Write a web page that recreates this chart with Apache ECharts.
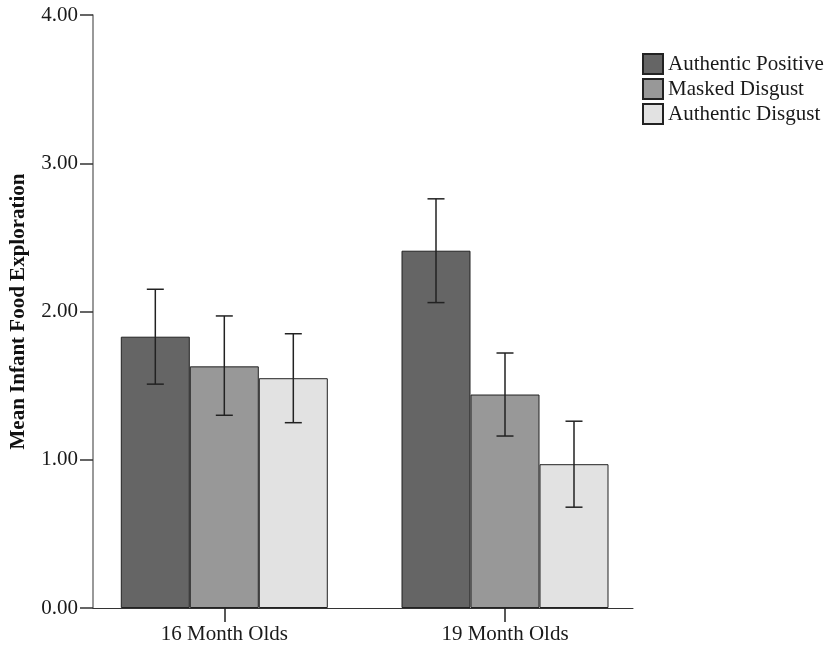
<!DOCTYPE html>
<html>
<head>
<meta charset="utf-8">
<script src="https://cdn.jsdelivr.net/npm/echarts@6/dist/echarts.min.js"></script>
<style>html,body{margin:0;padding:0;background:#fff;}#c{width:826px;height:654px;}</style>
</head>
<body>
<div id="c"></div>
<script>
var categories = ['16 Month Olds', '19 Month Olds'];
var seriesNames = ['Authentic Positive', 'Masked Disgust', 'Authentic Disgust'];
var yTicks = [0, 1, 2, 3, 4];

var meanAuthPos = [1.83, 2.41];
var meanMasked = [1.63, 1.44];
var meanAuthDis = [1.55, 0.97];

var lowAuthPos = [1.51, 2.06];
var highAuthPos = [2.15, 2.76];
var lowMasked = [1.30, 1.16];
var highMasked = [1.97, 1.72];
var lowAuthDis = [1.25, 0.68];
var highAuthDis = [1.85, 1.26];

var means = [meanAuthPos, meanMasked, meanAuthDis];
var lows = [lowAuthPos, lowMasked, lowAuthDis];
var highs = [highAuthPos, highMasked, highAuthDis];

var colors = ['#656565', '#989898', '#e2e2e2'];
var BAR_W = 69;
var FONT = "'Liberation Serif', 'Times New Roman', serif";

var series = [];
seriesNames.forEach(function (name, si) {
  series.push({
    name: name,
    type: 'bar',
    barWidth: BAR_W,
    barGap: '0%',
    itemStyle: { color: colors[si], borderColor: '#222', borderWidth: 1 },
    data: categories.map(function (c, i) { return [i, means[si][i]]; }),
    z: 2
  });
});
seriesNames.forEach(function (name, si) {
  var off = (si - 1) * BAR_W;
  series.push({
    type: 'custom',
    silent: true,
    z: 5,
    renderItem: function (params, api) {
      var x = api.value(0);
      var pLo = api.coord([x, api.value(1)]);
      var pHi = api.coord([x, api.value(2)]);
      var cx = pLo[0] + off;
      var cap = 8.5;
      var st = { stroke: '#222', lineWidth: 1.5 };
      return {
        type: 'group',
        children: [
          { type: 'line', shape: { x1: cx, y1: pLo[1], x2: cx, y2: pHi[1] }, style: st },
          { type: 'line', shape: { x1: cx - cap, y1: pLo[1], x2: cx + cap, y2: pLo[1] }, style: st },
          { type: 'line', shape: { x1: cx - cap, y1: pHi[1], x2: cx + cap, y2: pHi[1] }, style: st }
        ]
      };
    },
    data: categories.map(function (c, i) { return [i, lows[si][i], highs[si][i]]; })
  });
});

var chart = echarts.init(document.getElementById('c'), null, { renderer: 'canvas' });
chart.setOption({
  backgroundColor: '#fff',
  animation: false,
  grid: { left: 93, right: 193, top: 15, bottom: 46, containLabel: false },
  legend: {
    orient: 'vertical',
    left: 637,
    top: 48,
    itemWidth: 20,
    itemHeight: 20,
    itemGap: 3,
    icon: 'rect',
    data: seriesNames,
    textStyle: { fontFamily: FONT, fontSize: 21, color: '#1a1a1a' }
  },
  xAxis: {
    type: 'value',
    min: -0.4678,
    max: 1.456,
    splitLine: { show: false },
    axisLine: { show: true, onZero: false, lineStyle: { color: '#333', width: 1 } },
    axisTick: { show: true, customValues: [0, 1], length: 14, lineStyle: { color: '#222', width: 1.5 } },
    axisLabel: {
      customValues: [0, 1],
      margin: 16,
      fontFamily: FONT,
      fontSize: 21,
      color: '#1a1a1a',
      formatter: function (v) { return categories[Math.round(v)]; }
    }
  },
  yAxis: {
    type: 'value',
    min: 0,
    max: 4,
    interval: 1,
    name: 'Mean Infant Food Exploration',
    nameLocation: 'middle',
    nameRotate: 90,
    nameGap: 64,
    nameTextStyle: { fontFamily: FONT, fontSize: 21, fontWeight: 'bold', color: '#111' },
    splitLine: { show: false },
    axisLine: { show: true, onZero: false, lineStyle: { color: '#777', width: 1.5 } },
    axisTick: { show: true, length: 13, lineStyle: { color: '#333', width: 1.5 } },
    axisLabel: {
      margin: 15,
      fontFamily: FONT,
      fontSize: 21,
      color: '#1a1a1a',
      customValues: yTicks,
      formatter: function (v) { return v.toFixed(2); }
    }
  },
  series: series
});
</script>
</body>
</html>
